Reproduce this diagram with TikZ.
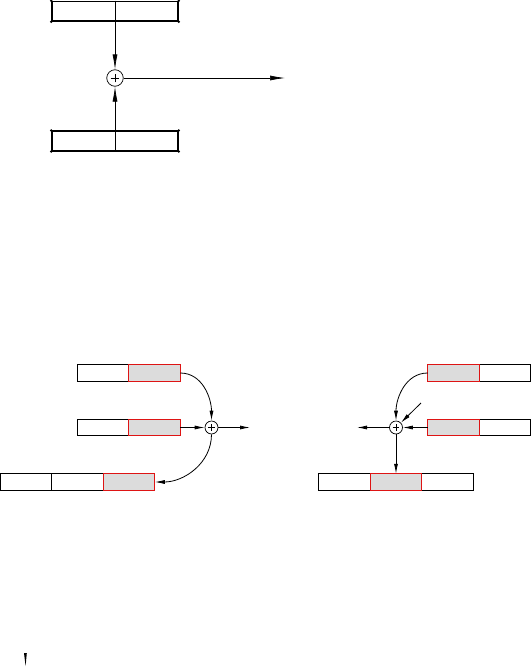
\documentclass[tikz,border=0pt]{standalone}
\usepackage{tikz}
\usetikzlibrary{arrows.meta,positioning}
\definecolor{cellgrey}{RGB}{220,220,220}
\definecolor{cellred}{RGB}{222,20,20}

\tikzset{
  bigbox/.style={draw,line width=1.6pt,minimum width=126pt,minimum height=19.5pt,inner sep=0pt},
  whitecell/.style={draw,line width=0.8pt,minimum width=51.5pt,minimum height=16.5pt,inner sep=0pt,outer sep=0pt},
  greycell/.style={whitecell,draw=cellred,fill=cellgrey},
  sumnode/.style={draw,circle,line width=0.7pt,inner sep=0pt,minimum size=#1,
    path picture={
      \draw[line width=0.5pt]
        ([xshift=-0.26*#1]path picture bounding box.center) -- ([xshift=0.26*#1]path picture bounding box.center)
        ([yshift=-0.26*#1]path picture bounding box.center) -- ([yshift=0.26*#1]path picture bounding box.center);
    }},
  bigflow/.style={-{Latex[length=15pt,width=5pt]},line width=0.7pt},
  flow/.style={-{Latex[length=10pt,width=4pt]},line width=0.8pt}
}

\begin{document}
\begin{tikzpicture}[x=1pt,y=-1pt]
  \useasboundingbox (0,0) rectangle (531,667);

  % upper sum
  \node[bigbox] (topbox) at (115,11.25) {};
  \node[bigbox] (botbox) at (115,141) {};
  \node[sumnode=16.5pt] (sumA) at (115,78) {};
  \coordinate (outA) at (285,78);
  \foreach \b in {topbox,botbox}
    \foreach \c in {north west,north east,south west,south east}
      \fill (\b.\c) circle (1.3);
  \draw[bigflow] (topbox.north) -- (sumA);
  \draw[bigflow] (botbox.south) -- (sumA);
  \draw[bigflow] (sumA) -- (outA);

  % lower left
  \node[whitecell] (a1) at (103,373) {};
  \node[greycell,right=0pt of a1] (a2) {};
  \node[whitecell] (b1) at (103,427.5) {};
  \node[greycell,right=0pt of b1] (b2) {};
  \node[whitecell] (c1) at (26,482) {};
  \node[whitecell,right=0pt of c1] (c2) {};
  \node[greycell,right=0pt of c2] (c3) {};
  \node[sumnode=13pt] (sumB) at (211.5,427.5) {};
  \coordinate (outB) at (250,427.5);
  \draw[flow] (b2.east) -- (sumB);
  \draw[flow] (sumB) -- (outB);
  \draw[flow] (a2.east) to[out=0,in=90] (sumB.north);
  \draw[flow] (sumB.south) to[out=-90,in=0] (c3.east);

  % lower right
  \node[whitecell] (d2) at (505,373) {};
  \node[greycell,left=0pt of d2] (d1) {};
  \node[whitecell] (e2) at (505,427.5) {};
  \node[greycell,left=0pt of e2] (e1) {};
  \node[whitecell] (f1) at (344.5,482) {};
  \node[whitecell] (f3) at (447.5,482) {};
  \node[greycell,right=0pt of f1] (f2) {};
  \node[sumnode=13pt] (sumC) at (396,427.5) {};
  \coordinate (outC) at (357,427.5);
  \coordinate (inC) at (421,403);
  \draw[flow] (e1.west) -- (sumC);
  \draw[flow] (sumC) -- (outC);
  \draw[flow] (inC) -- (sumC);
  \draw[flow] (d1.west) to[out=180,in=90] (sumC.north);
  \draw[flow] (sumC) -- (f2.north);

  \fill (24,653) -- (26.8,653) -- (25.6,666) -- cycle;
\end{tikzpicture}
\end{document}
